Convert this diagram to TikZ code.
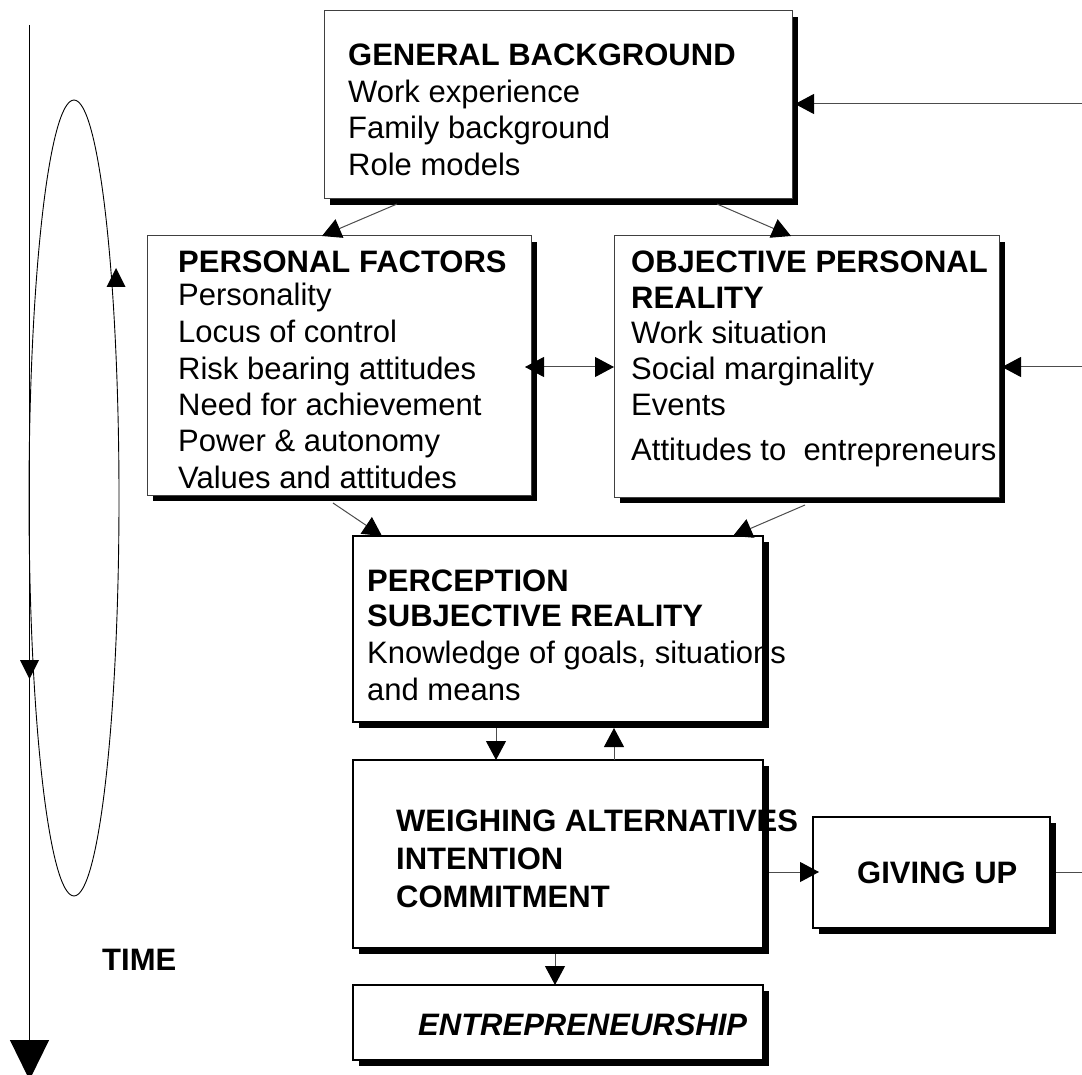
\documentclass[tikz,border=0pt]{standalone}
\usepackage{fontspec}
\setmainfont{Liberation Sans}
\usetikzlibrary{arrows.meta,shadows,calc}
\newcommand\dfs{\fontsize{31}{36}\selectfont}
\begin{document}
\begin{tikzpicture}[x=1pt,y=-1pt,
  box/.style={draw=black!75, line width=1pt, fill=white, inner sep=0pt, outer sep=0pt, anchor=north west,
    general shadow={fill=black, shadow xshift=6pt, shadow yshift=-6pt}},
  boxb/.style={box, draw=black, line width=1.8pt},
  txt/.style={anchor=base west, inner sep=0pt, font=\dfs},
  hd/.style={txt, font=\dfs\bfseries},
  con/.style={draw=black!70, line width=1pt},
  tip/.style={-{Triangle[length=19pt,width=20pt,color=black]}},
  tips/.style={{Triangle[length=19pt,width=20pt,color=black]}-{Triangle[length=19pt,width=20pt,color=black]}},
]
\useasboundingbox (0,0) rectangle (1082,1075);

% time axis and cycle
\coordinate (t0) at (29.5,25);
\coordinate (t1) at (29.5,1080);
\draw[line width=1.2pt, -{Triangle[length=40pt,width=39pt]}] (t0) -- (t1);
\draw[line width=0.9pt] (74,498) ellipse [x radius=45pt, y radius=398pt];
\fill (106.5,287) -- (125.5,287) -- (116,268) -- cycle;
\fill (20,660) -- (39,660) -- (29.5,679) -- cycle;
\node[hd] (time) at (102,970) {TIME};

% boxes
\node[box, minimum width=468pt, minimum height=188pt] (gb) at (324,11) {};
\node[box, minimum width=384pt, minimum height=259pt] (pf) at (147,236) {};
\node[box, minimum width=385pt, minimum height=261pt] (orp) at (614,236) {};
\node[boxb, minimum width=410pt, minimum height=186pt] (perc) at (353,536) {};
\node[boxb, minimum width=410pt, minimum height=188pt] (weigh) at (353,760) {};
\node[boxb, minimum width=237pt, minimum height=111pt] (give) at (813,817) {};
\node[boxb, minimum width=410pt, minimum height=75pt] (ent) at (353,985) {};

% texts
\node[hd]  (gb1) at (348,66)  {GENERAL BACKGROUND};
\node[txt] (gb2) at (348,103) {Work experience};
\node[txt] (gb3) at (348,139) {Family background};
\node[txt] (gb4) at (348,176) {Role models};

\node[hd]  (pf1) at (178,273)   {PERSONAL FACTORS};
\node[txt] (pf2) at (178,306)   {Personality};
\node[txt] (pf3) at (178,342.5) {Locus of control};
\node[txt] (pf4) at (178,379)   {Risk bearing attitudes};
\node[txt] (pf5) at (178,415)   {Need for achievement};
\node[txt] (pf6) at (178,451.5) {Power \& autonomy};
\node[txt] (pf7) at (178,488)   {Values and attitudes};

\node[hd]  (or1) at (631,273) {OBJECTIVE PERSONAL};
\node[hd]  (or2) at (631,309) {REALITY};
\node[txt] (or3) at (631,344) {Work situation};
\node[txt] (or4) at (631,379) {Social marginality};
\node[txt] (or5) at (631,415) {Events};
\node[txt] (or6) at (631,460) {Attitudes to\ \ entrepreneurs};

\node[hd]  (pe1) at (367,591) {PERCEPTION};
\node[hd]  (pe2) at (367,626) {SUBJECTIVE REALITY};
\node[txt] (pe3) at (367,663) {Knowledge of goals, situations};
\node[txt] (pe4) at (367,700) {and means};

\node[hd] (we1) at (396,831) {WEIGHING ALTERNATIVES};
\node[hd] (we2) at (396,869) {INTENTION};
\node[hd] (we3) at (396,907) {COMMITMENT};

\node[hd] (gu) at (857,883) {GIVING UP};
\node[txt, font=\dfs\bfseries\itshape] (en) at (418,1035) {ENTREPRENEURSHIP};

% connectors
\draw[con,tip] ($(gb.south west)+(73,5)$) -- ($(pf.north west)+(175,0)$);
\draw[con,tip] ($(gb.south west)+(393,5)$) -- ($(orp.north west)+(177,0)$);
\draw[con,tip] ($(pf.south west)+(186,8)$) -- ($(perc.north west)+(29,0)$);
\draw[con,tip] ($(orp.south west)+(191,8)$) -- ($(perc.north west)+(380,0)$);
\draw[con,tips] ($(pf.north east)+(-6,131)$) -- ($(orp.north west)+(0,131)$);
\draw[con,tip] ($(perc.south west)+(143,6)$) -- ($(weigh.north west)+(143,0)$);
\draw[con,tip] ($(weigh.north west)+(261,0)$) -- ($(perc.south west)+(261,6)$);
\draw[con,tip] ($(weigh.north east)+(6,112)$) -- ($(give.north west)+(6,55)$);
\draw[con,tip] ($(weigh.south west)+(202,6)$) -- ($(ent.north west)+(202,0)$);

\coordinate (r1) at (1090,104);
\coordinate (r2) at (1090,367);
\coordinate (r3) at (1090,872);
\draw[con,tip] (r1) -- ($(gb.north east)+(3,93)$);
\draw[con,tip] (r2) -- ($(orp.north east)+(3,131)$);
\draw[con] ($(give.north east)+(6,55)$) -- (r3);
\end{tikzpicture}
\end{document}
